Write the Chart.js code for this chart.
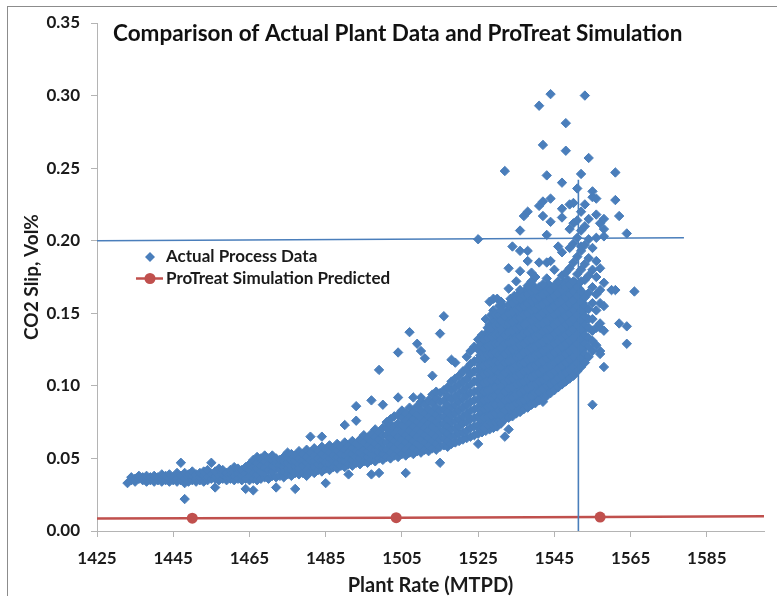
<!DOCTYPE html>
<html><head><meta charset="utf-8">
<script src="https://cdn.jsdelivr.net/npm/chart.js@4.4.1/dist/chart.umd.min.js"></script>
<style>
html,body{margin:0;padding:0;background:#fff;}
#wrap{position:relative;width:777px;height:596px;overflow:hidden;}
#frame{position:absolute;left:7px;top:6px;width:820px;height:720px;border:1.5px solid #8c8c8c;}
canvas{position:absolute;left:0;top:0;}
</style></head><body>
<div id="wrap"><div id="frame"></div><canvas id="c" width="777" height="596"></canvas></div>
<script>
// ---------- DATA ----------
const chartTitle = 'Comparison of Actual Plant Data and ProTreat Simulation';
const xTitle = 'Plant Rate (MTPD)';
const yTitle = 'CO2 Slip, Vol%';
const xTickValues = [1425, 1445, 1465, 1485, 1505, 1525, 1545, 1565, 1585];
const yTickValues = [0, 0.05, 0.10, 0.15, 0.20, 0.25, 0.30, 0.35];

// Actual process data: [plant rate, [CO2 slip values observed at that rate]]
const actualLowRate = [
 [1433,[0.033]],
 [1434,[0.035,0.037]],
 [1435,[0.034,0.036]],
 [1436,[0.036,0.038]],
 [1437,[0.035,0.037]],
 [1438,[0.034,0.036,0.038]],
 [1439,[0.035,0.037]],
 [1440,[0.034,0.036,0.038]],
 [1441,[0.035,0.037]],
 [1442,[0.034,0.036,0.039]],
 [1443,[0.035,0.038]],
 [1444,[0.034,0.036,0.039]],
 [1445,[0.035,0.037]],
 [1446,[0.034,0.036,0.040]],
 [1447,[0.035,0.038,0.047]],
 [1448,[0.022,0.033,0.036,0.040]],
 [1449,[0.034,0.037,0.039]],
 [1450,[0.035,0.038,0.041]],
 [1451,[0.034,0.036,0.039]],
 [1452,[0.035,0.037,0.040]],
 [1453,[0.034,0.038,0.041]],
 [1454,[0.035,0.037,0.042]],
 [1455,[0.036,0.039,0.047]],
 [1456,[0.030,0.036,0.038,0.041]],
 [1457,[0.035,0.038,0.043]],
 [1458,[0.036,0.039,0.042]],
 [1459,[0.035,0.037,0.040]],
 [1460,[0.036,0.039,0.042]],
 [1461,[0.035,0.038,0.041,0.044]],
 [1462,[0.036,0.040,0.043]],
 [1463,[0.035,0.038,0.042]],
 [1464,[0.029,0.036,0.040,0.044]],
 [1465,[0.035,0.038,0.042,0.046]]
];
const actualMidRate = [
 [1466,[0.028,0.036,0.040,0.044,0.049]],
 [1467,[0.035,0.039,0.043,0.047,0.051]],
 [1468,[0.036,0.041,0.045,0.050]],
 [1469,[0.037,0.040,0.044,0.048,0.052]],
 [1470,[0.036,0.042,0.046,0.050]],
 [1471,[0.038,0.041,0.045,0.049,0.052]],
 [1472,[0.030,0.037,0.043,0.047,0.050]],
 [1473,[0.038,0.042,0.046,0.049]],
 [1474,[0.037,0.041,0.044,0.048,0.051]],
 [1475,[0.039,0.043,0.047,0.050,0.054]],
 [1476,[0.038,0.042,0.045,0.049,0.053]],
 [1477,[0.029,0.040,0.044,0.048,0.052]],
 [1478,[0.039,0.043,0.046,0.050,0.055]],
 [1479,[0.040,0.045,0.049,0.053]],
 [1480,[0.038,0.042,0.047,0.051,0.056]],
 [1481,[0.041,0.045,0.049,0.054,0.065]],
 [1482,[0.040,0.044,0.048,0.052,0.057]],
 [1483,[0.042,0.046,0.050,0.055]],
 [1484,[0.041,0.045,0.049,0.053,0.058,0.065]],
 [1485,[0.033,0.043,0.047,0.051,0.056]],
 [1486,[0.042,0.046,0.050,0.054,0.059]],
 [1487,[0.044,0.048,0.052,0.057]],
 [1488,[0.043,0.047,0.051,0.055,0.060]],
 [1489,[0.045,0.049,0.053,0.058]],
 [1490,[0.044,0.048,0.052,0.056,0.061,0.073]],
 [1491,[0.039,0.046,0.050,0.054,0.059]],
 [1492,[0.045,0.049,0.053,0.057,0.062]],
 [1493,[0.047,0.051,0.055,0.060,0.076,0.086]],
 [1494,[0.046,0.050,0.054,0.058,0.063]],
 [1495,[0.048,0.052,0.056,0.061,0.066]],
 [1496,[0.047,0.051,0.055,0.059,0.064]],
 [1497,[0.039,0.049,0.053,0.057,0.062,0.067,0.090]],
 [1498,[0.048,0.052,0.056,0.060,0.065,0.070]],
 [1499,[0.040,0.050,0.054,0.058,0.063,0.068,0.111]],
 [1500,[0.049,0.053,0.057,0.061,0.066,0.071,0.087]]
];
const actualRisingRate = [
 [1501,[0.051,0.056,0.061,0.066,0.071,0.075]],
 [1502,[0.050,0.054,0.059,0.064,0.068,0.073,0.077]],
 [1503,[0.052,0.057,0.062,0.067,0.072,0.079]],
 [1504,[0.051,0.055,0.060,0.065,0.070,0.074,0.080,0.092,0.123]],
 [1505,[0.053,0.058,0.063,0.068,0.073,0.078,0.083]],
 [1506,[0.040,0.052,0.056,0.061,0.066,0.071,0.076,0.081]],
 [1507,[0.054,0.059,0.064,0.069,0.074,0.079,0.085,0.137]],
 [1508,[0.053,0.057,0.062,0.067,0.072,0.077,0.082,0.092]],
 [1509,[0.055,0.060,0.065,0.070,0.075,0.080,0.086,0.129]],
 [1510,[0.054,0.058,0.063,0.068,0.073,0.078,0.083,0.089,0.092,0.124]],
 [1511,[0.056,0.061,0.066,0.071,0.076,0.081,0.087,0.119]],
 [1512,[0.055,0.059,0.064,0.069,0.074,0.079,0.084,0.090]],
 [1513,[0.057,0.062,0.067,0.072,0.077,0.082,0.088,0.094,0.107]],
 [1514,[0.056,0.060,0.065,0.070,0.075,0.080,0.085,0.091,0.096]],
 [1515,[0.047,0.058,0.063,0.068,0.073,0.078,0.083,0.089,0.095,0.136]],
 [1516,[0.059,0.064,0.069,0.074,0.079,0.084,0.090,0.097,0.148]],
 [1517,[0.058,0.062,0.067,0.072,0.077,0.082,0.087,0.093,0.099]],
 [1518,[0.060,0.065,0.070,0.075,0.080,0.085,0.091,0.097,0.103,0.118]],
 [1519,[0.061,0.066,0.071,0.076,0.081,0.087,0.093,0.099,0.105,0.116]],
 [1520,[0.062,0.067,0.072,0.077,0.083,0.089,0.095,0.101,0.107]],
 [1521,[0.063,0.068,0.074,0.079,0.085,0.091,0.097,0.103,0.110]],
 [1522,[0.064,0.069,0.075,0.081,0.087,0.093,0.099,0.105,0.112,0.120]],
 [1523,[0.065,0.071,0.077,0.083,0.089,0.095,0.101,0.108,0.115,0.124]],
 [1524,[0.066,0.072,0.078,0.084,0.090,0.096,0.103,0.110,0.117,0.127]],
 [1525,[0.060,0.067,0.073,0.079,0.085,0.091,0.097,0.104,0.111,0.118,0.125,0.132,0.201]],
 [1526,[0.068,0.074,0.080,0.086,0.092,0.098,0.104,0.110,0.116,0.122,0.128,0.135]],
 [1527,[0.069,0.075,0.081,0.087,0.093,0.099,0.105,0.111,0.117,0.123,0.129,0.136,0.146]],
 [1528,[0.070,0.076,0.082,0.088,0.094,0.100,0.106,0.112,0.118,0.124,0.130,0.136,0.142,0.158]],
 [1529,[0.071,0.077,0.083,0.089,0.095,0.101,0.107,0.113,0.119,0.125,0.131,0.138,0.145,0.152,0.160]],
 [1530,[0.072,0.078,0.084,0.090,0.096,0.102,0.108,0.114,0.120,0.126,0.132,0.139,0.146,0.160]]
];
const actualHighRate = [
 [1531,[0.074,0.080,0.087,0.093,0.100,0.106,0.113,0.119,0.126,0.132,0.139,0.145,0.152,0.158]],
 [1532,[0.065,0.077,0.083,0.090,0.096,0.103,0.109,0.116,0.122,0.129,0.135,0.142,0.148,0.248]],
 [1533,[0.070,0.078,0.085,0.091,0.098,0.104,0.111,0.117,0.124,0.130,0.137,0.143,0.150,0.156,0.167,0.181]],
 [1534,[0.079,0.086,0.092,0.099,0.105,0.112,0.118,0.125,0.131,0.138,0.144,0.151,0.157,0.196]],
 [1535,[0.081,0.088,0.094,0.101,0.107,0.114,0.120,0.127,0.133,0.140,0.146,0.153,0.159,0.172]],
 [1536,[0.082,0.089,0.095,0.102,0.108,0.115,0.121,0.128,0.134,0.141,0.147,0.154,0.160,0.166,0.179,0.193,0.207]],
 [1537,[0.084,0.090,0.097,0.103,0.110,0.116,0.123,0.129,0.136,0.142,0.149,0.155,0.162,0.217]],
 [1538,[0.085,0.092,0.098,0.105,0.111,0.118,0.124,0.131,0.137,0.144,0.150,0.157,0.163,0.169,0.186,0.193,0.220]],
 [1539,[0.087,0.093,0.100,0.106,0.113,0.119,0.126,0.132,0.139,0.145,0.152,0.158,0.165,0.172,0.178]],
 [1540,[0.088,0.095,0.101,0.108,0.114,0.121,0.127,0.134,0.140,0.147,0.153,0.160,0.166,0.175]],
 [1541,[0.090,0.096,0.103,0.109,0.116,0.122,0.129,0.135,0.142,0.148,0.155,0.161,0.168,0.185,0.224,0.293]],
 [1542,[0.089,0.098,0.104,0.111,0.117,0.124,0.130,0.137,0.143,0.150,0.156,0.163,0.170,0.217,0.227,0.266]],
 [1543,[0.093,0.100,0.106,0.113,0.119,0.126,0.132,0.139,0.145,0.152,0.158,0.165,0.174,0.185,0.204,0.245]],
 [1544,[0.095,0.101,0.108,0.114,0.121,0.127,0.134,0.140,0.147,0.153,0.160,0.166,0.186,0.213,0.229,0.301]],
 [1545,[0.097,0.103,0.110,0.116,0.123,0.129,0.136,0.142,0.149,0.155,0.162,0.169,0.180]],
 [1546,[0.099,0.105,0.112,0.118,0.125,0.131,0.138,0.144,0.151,0.157,0.164,0.172,0.196]],
 [1547,[0.101,0.107,0.114,0.120,0.127,0.133,0.140,0.146,0.153,0.159,0.166,0.176,0.192,0.216,0.222,0.240]],
 [1548,[0.103,0.109,0.116,0.122,0.129,0.135,0.142,0.148,0.155,0.161,0.168,0.178,0.262,0.281]],
 [1549,[0.105,0.111,0.118,0.124,0.131,0.137,0.144,0.150,0.157,0.163,0.170,0.181,0.195,0.208,0.225]],
 [1550,[0.107,0.113,0.120,0.126,0.133,0.139,0.146,0.152,0.159,0.165,0.172,0.185,0.198,0.212,0.226]],
 [1551,[0.110,0.116,0.123,0.129,0.136,0.142,0.149,0.155,0.162,0.168,0.177,0.189,0.202,0.214,0.236]],
 [1552,[0.113,0.119,0.126,0.132,0.139,0.145,0.152,0.158,0.165,0.172,0.180,0.193,0.196,0.207,0.220,0.246]],
 [1553,[0.116,0.122,0.129,0.135,0.142,0.148,0.155,0.161,0.173,0.184,0.197,0.210,0.225,0.300]],
 [1554,[0.120,0.127,0.133,0.140,0.146,0.153,0.164,0.176,0.188,0.201,0.215,0.257]],
 [1555,[0.087,0.124,0.131,0.138,0.146,0.157,0.168,0.180,0.195,0.230,0.234]],
 [1556,[0.128,0.140,0.152,0.163,0.175,0.186,0.202,0.218,0.229]],
 [1557,[0.122,0.124,0.140,0.143,0.157,0.166,0.181,0.212]],
 [1558,[0.113,0.138,0.155,0.171,0.203,0.208,0.215]],
 [1560,[0.166]],
 [1561,[0.166,0.228,0.247]],
 [1562,[0.143,0.217]],
 [1564,[0.129,0.141,0.205]],
 [1566,[0.165]]
];
// Readings logged at intermediate rates inside the dense core
const actualHalfStep = [
 [1525.5,[0.070,0.077,0.083,0.089,0.095,0.101,0.107,0.114,0.121,0.128]],
 [1526.5,[0.071,0.078,0.084,0.090,0.096,0.102,0.108,0.114,0.120,0.126,0.132]],
 [1527.5,[0.073,0.079,0.085,0.091,0.097,0.103,0.109,0.115,0.121,0.127,0.133,0.140]],
 [1528.5,[0.074,0.080,0.086,0.092,0.098,0.104,0.110,0.116,0.122,0.128,0.134,0.140,0.149]],
 [1529.5,[0.075,0.081,0.087,0.093,0.099,0.105,0.111,0.117,0.123,0.129,0.135,0.142,0.149]],
 [1530.5,[0.076,0.083,0.090,0.096,0.103,0.109,0.116,0.122,0.129,0.135,0.142,0.149,0.155]],
 [1531.5,[0.078,0.084,0.091,0.097,0.104,0.110,0.117,0.123,0.130,0.136,0.143,0.149,0.155]],
 [1532.5,[0.080,0.086,0.093,0.099,0.106,0.112,0.119,0.125,0.132,0.138,0.145,0.151]],
 [1533.5,[0.082,0.088,0.095,0.101,0.108,0.114,0.121,0.127,0.134,0.140,0.147,0.153,0.160]],
 [1534.5,[0.084,0.090,0.097,0.103,0.110,0.116,0.123,0.129,0.136,0.142,0.149,0.155,0.162]],
 [1535.5,[0.085,0.091,0.098,0.104,0.111,0.117,0.124,0.130,0.137,0.143,0.150,0.156,0.163]],
 [1536.5,[0.086,0.092,0.099,0.105,0.112,0.118,0.125,0.131,0.138,0.144,0.151,0.157,0.164]],
 [1537.5,[0.088,0.094,0.101,0.107,0.114,0.120,0.127,0.133,0.140,0.146,0.153,0.159,0.166]],
 [1538.5,[0.089,0.096,0.102,0.109,0.115,0.122,0.128,0.135,0.141,0.148,0.154,0.161,0.167]],
 [1539.5,[0.091,0.097,0.104,0.110,0.117,0.123,0.130,0.136,0.143,0.149,0.156,0.162,0.169]],
 [1540.5,[0.092,0.099,0.105,0.112,0.118,0.125,0.131,0.138,0.144,0.151,0.157,0.164]],
 [1541.5,[0.094,0.100,0.107,0.113,0.120,0.126,0.133,0.139,0.146,0.152,0.159,0.165]],
 [1542.5,[0.096,0.102,0.109,0.115,0.122,0.128,0.135,0.141,0.148,0.154,0.161,0.168]],
 [1543.5,[0.098,0.104,0.111,0.117,0.124,0.130,0.137,0.143,0.150,0.156,0.163,0.170]],
 [1544.5,[0.099,0.106,0.112,0.119,0.125,0.132,0.138,0.145,0.151,0.158,0.164]],
 [1545.5,[0.101,0.108,0.114,0.121,0.127,0.134,0.140,0.147,0.153,0.160,0.166]],
 [1546.5,[0.103,0.110,0.116,0.123,0.129,0.136,0.142,0.149,0.155,0.162,0.169]],
 [1547.5,[0.105,0.112,0.118,0.125,0.131,0.138,0.144,0.151,0.157,0.164,0.171]],
 [1548.5,[0.107,0.114,0.120,0.127,0.133,0.140,0.146,0.153,0.159,0.166,0.173]],
 [1549.5,[0.109,0.116,0.122,0.129,0.135,0.142,0.148,0.155,0.161,0.168]],
 [1550.5,[0.112,0.119,0.125,0.132,0.138,0.145,0.151,0.158,0.164,0.171]],
 [1551.5,[0.115,0.122,0.128,0.135,0.141,0.148,0.154,0.161,0.167]],
 [1552.5,[0.118,0.125,0.131,0.138,0.144,0.151,0.157,0.164]]
];

// ProTreat simulation prediction (markers on the middle three points)
const simRate = [1425, 1450, 1503.5, 1557, 1600];
const simSlip = [0.0086, 0.0088, 0.0092, 0.0096, 0.0102];
const simMarker = [false, true, true, true, false];

// Hand-drawn guide lines
const guideHRate = [1425, 1579];
const guideHSlip = [0.200, 0.202];
const guideVRate = [1551.3, 1551.3];
const guideVSlip = [0, 0.242];

// ---------- CHART ----------
const FONT = 'Lato, "Open Sans", sans-serif';
const TEXT = '#1a1a1a';
const AXIS = '#b4b4b4';
const BLUE = '#4a7ebb';
const RED = '#c0504d';

function expand(rows){
  const pts = [];
  rows.forEach(([x, ys]) => ys.forEach(y => pts.push({x: x, y: y})));
  return pts;
}
function pair(xs, ys){ return xs.map((x, i) => ({x: x, y: ys[i]})); }

const actualPoints = [].concat(expand(actualLowRate), expand(actualMidRate),
                               expand(actualRisingRate), expand(actualHalfStep),
                               expand(actualHighRate));

const titlePlugin = {
  id: 'titleText',
  afterDraw(chart){
    const c = chart.ctx;
    c.save();
    c.font = 'bold 22.5px ' + FONT;
    c.fillStyle = '#111';
    c.textAlign = 'left';
    c.textBaseline = 'middle';
    c.fillText(chartTitle, 113, 34);
    c.restore();
  }
};
const legendPlugin = {
  id: 'insideLegend',
  afterDraw(chart){
    const c = chart.ctx;
    const ds = chart.data.datasets;
    c.save();
    let y = 257;
    c.fillStyle = BLUE;
    c.beginPath();
    c.moveTo(150 - 5, y); c.lineTo(150, y - 5); c.lineTo(150 + 5, y); c.lineTo(150, y + 5);
    c.closePath(); c.fill();
    c.font = 'bold 17px ' + FONT;
    c.fillStyle = TEXT;
    c.textBaseline = 'middle';
    c.fillText(ds[2].label, 166, y);
    y = 278.5;
    c.strokeStyle = RED; c.lineWidth = 2.5;
    c.beginPath(); c.moveTo(136, y); c.lineTo(163, y); c.stroke();
    c.fillStyle = RED;
    c.beginPath(); c.arc(150, y, 5.5, 0, Math.PI * 2); c.fill();
    c.fillStyle = TEXT;
    c.fillText(ds[3].label, 166, y);
    c.restore();
  }
};

new Chart(document.getElementById('c'), {
  type: 'scatter',
  data: {
    datasets: [
      {label: 'guideH', data: pair(guideHRate, guideHSlip), showLine: true,
       borderColor: BLUE, borderWidth: 1.6, pointRadius: 0, order: 0},
      {label: 'guideV', data: pair(guideVRate, guideVSlip), showLine: true,
       borderColor: BLUE, borderWidth: 1.6, pointRadius: 0, order: 0},
      {label: 'Actual Process Data', data: actualPoints, pointStyle: 'rectRot',
       pointRadius: 4.7, backgroundColor: BLUE, borderColor: BLUE, borderWidth: 1, order: 2},
      {label: 'ProTreat Simulation Predicted', data: pair(simRate, simSlip), showLine: true,
       borderColor: RED, borderWidth: 2.5, backgroundColor: RED,
       pointRadius: simMarker.map(m => m ? 5.5 : 0), pointBackgroundColor: RED,
       pointBorderColor: RED, pointBorderWidth: 0, order: 1}
    ]
  },
  options: {
    responsive: false,
    animation: false,
    events: [],
    layout: {padding: {top: 23, right: 13, left: 0, bottom: 0}},
    plugins: {legend: {display: false}, tooltip: {enabled: false}, title: {display: false}},
    scales: {
      x: {
        type: 'linear', min: 1425, max: 1600,
        afterBuildTicks: s => { s.ticks = xTickValues.map(v => ({value: v})); },
        afterFit: s => { s.height = 65; },
        grid: {drawOnChartArea: false, drawTicks: true, tickLength: 6, color: AXIS},
        border: {color: AXIS, width: 1},
        ticks: {font: {family: FONT, size: 17, weight: 'bold'}, color: TEXT, padding: 11,
                maxRotation: 0, autoSkip: false, callback: v => String(v)},
        title: {display: true, text: xTitle, color: TEXT,
                font: {family: FONT, size: 20, weight: 'bold'}, padding: {top: 0, bottom: -2}}
      },
      y: {
        type: 'linear', min: 0, max: 0.35,
        afterBuildTicks: s => { s.ticks = yTickValues.map(v => ({value: v})); },
        afterFit: s => { s.width = 97; },
        grid: {drawOnChartArea: false, drawTicks: true, tickLength: 6, color: AXIS},
        border: {color: AXIS, width: 1},
        ticks: {font: {family: FONT, size: 17, weight: 'bold'}, color: TEXT, padding: 11,
                callback: v => Number(v).toFixed(2)},
        title: {display: true, text: yTitle, color: TEXT,
                font: {family: FONT, size: 19, weight: 'bold'}, padding: {top: 20, bottom: 0}}
      }
    }
  },
  plugins: [titlePlugin, legendPlugin]
});
</script>
</body></html>
